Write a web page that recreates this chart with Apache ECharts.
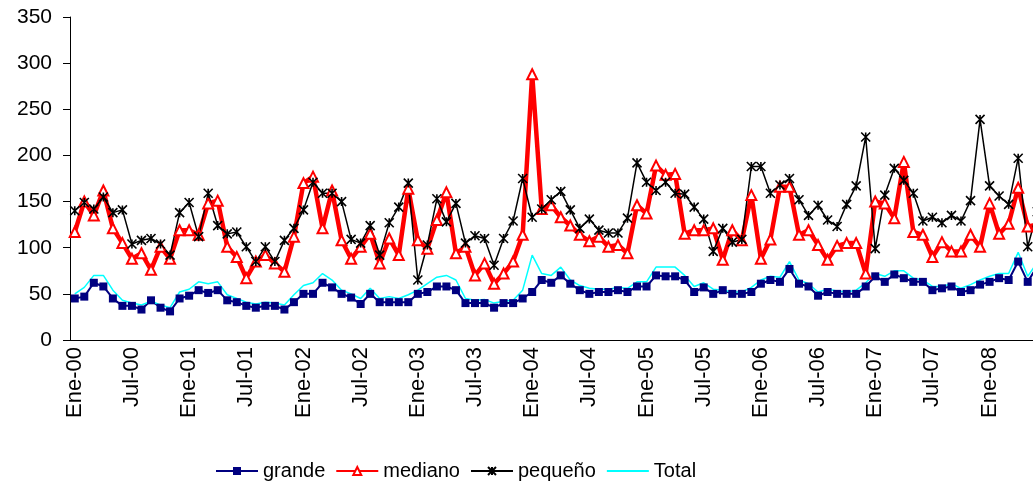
<!DOCTYPE html>
<html>
<head>
<meta charset="utf-8">
<script src="https://cdn.jsdelivr.net/npm/echarts@6/dist/echarts.min.js"></script>
<style>
  html, body { margin: 0; padding: 0; background: #fff; overflow: hidden; }
  /* the source image is cropped on the right, so the chart is a little wider than the window */
  #chart { width: 1042px; height: 491px; }
</style>
</head>
<body>
<div id="chart"></div>
<script>
const months = ['Ene', 'Feb', 'Mar', 'Abr', 'May', 'Jun', 'Jul', 'Ago', 'Sep', 'Oct', 'Nov', 'Dic'];
const years = ['00', '01', '02', '03', '04', '05', '06', '07', '08'];
const pointCount = 102;

const grande = [45, 47, 62, 58, 45, 37, 37, 33, 43, 35,
  31, 45, 48, 54, 51, 54, 43, 41, 37, 35,
  37, 37, 33, 41, 50, 50, 62, 57, 50, 46,
  39, 50, 41, 41, 41, 41, 50, 52, 58, 58,
  54, 40, 40, 40, 35, 40, 40, 45, 52, 65,
  62, 70, 61, 54, 50, 52, 52, 54, 52, 58,
  58, 70, 69, 69, 65, 52, 57, 50, 54, 50,
  50, 52, 61, 65, 63, 77, 61, 58, 48, 52,
  50, 50, 50, 58, 69, 63, 71, 67, 63, 63,
  54, 56, 58, 52, 54, 60, 63, 67, 65, 85,
  63, 80];

const mediano = [117, 150, 135, 162, 121, 105, 88, 94, 76, 101,
  88, 119, 119, 114, 148, 151, 101, 90, 67, 85,
  92, 83, 74, 112, 170, 177, 121, 162, 108, 88,
  101, 115, 83, 110, 92, 164, 108, 99, 130, 160,
  94, 101, 70, 83, 61, 72, 85, 114, 288, 142,
  146, 133, 124, 114, 107, 112, 101, 103, 94, 146,
  137, 189, 179, 180, 115, 119, 119, 121, 87, 119,
  108, 157, 88, 109, 166, 166, 114, 119, 103, 87,
  102, 105, 105, 72, 150, 148, 132, 193, 117, 114,
  90, 106, 96, 96, 114, 101, 148, 115, 126, 165,
  123, 125];

const pequeno = [140, 149, 142, 155, 138, 141, 104, 108, 110, 104,
  92, 138, 149, 112, 159, 124, 115, 117, 101, 85,
  101, 85, 108, 121, 141, 171, 159, 159, 150, 109,
  105, 124, 92, 127, 144, 170, 65, 103, 153, 128,
  148, 105, 113, 110, 81, 110, 129, 175, 133, 142,
  152, 161, 141, 121, 131, 119, 116, 116, 132, 192,
  171, 162, 171, 159, 158, 144, 131, 96, 121, 106,
  109, 188, 188, 159, 168, 175, 152, 135, 146, 130,
  123, 147, 167, 220, 99, 157, 186, 173, 159, 129,
  133, 127, 135, 129, 151, 239, 167, 156, 147, 197,
  101, 139];

const total = [50, 57, 70, 70, 54, 43, 40, 38, 42, 38,
  35, 52, 55, 63, 61, 63, 49, 45, 41, 39,
  41, 40, 38, 49, 59, 62, 72, 65, 54, 50,
  45, 56, 45, 47, 45, 49, 54, 61, 68, 70,
  65, 45, 43, 44, 40, 42, 43, 54, 92, 72,
  70, 79, 65, 59, 56, 55, 55, 57, 56, 63,
  63, 79, 79, 79, 70, 58, 62, 55, 54, 52,
  52, 57, 65, 69, 68, 85, 65, 61, 52, 55,
  53, 52, 54, 62, 72, 69, 75, 75, 67, 65,
  58, 58, 61, 56, 60, 65, 69, 72, 72, 95,
  69, 84];

const categories = [];
for (const y of years) {
  for (const m of months) {
    if (categories.length < pointCount) categories.push(m + '-' + y);
  }
}

const font = 'Liberation Sans, Arial, sans-serif';
const starPath = 'path://M5,0L5,10M0,0L10,10M0,10L10,0';

const chart = echarts.init(document.getElementById('chart'));
chart.setOption({
  animation: false,
  textStyle: { fontFamily: font, color: '#000' },
  grid: { left: 70, right: 0, top: 17, bottom: 151 },
  legend: {
    left: 210,
    top: 456,
    itemWidth: 42,
    itemHeight: 10,
    itemGap: 10,
    textStyle: { fontSize: 20, color: '#000', fontFamily: font },
    data: ['grande', 'mediano', 'pequeño', { name: 'Total', itemStyle: { opacity: 0 } }]
  },
  xAxis: {
    type: 'category',
    data: categories,
    boundaryGap: true,
    axisLine: { lineStyle: { color: '#000', width: 1 } },
    axisTick: { interval: 5, length: 5, lineStyle: { color: '#000' } },
    axisLabel: {
      interval: 5,
      rotate: 90,
      margin: 7,
      fontSize: 22,
      color: '#000',
      fontFamily: font
    },
    splitLine: { show: false }
  },
  yAxis: {
    type: 'value',
    min: 0,
    max: 350,
    interval: 50,
    axisLine: { show: true, lineStyle: { color: '#000', width: 1 } },
    axisTick: { show: true, length: 7, lineStyle: { color: '#000' } },
    axisLabel: { margin: 18, fontSize: 21, color: '#000', fontFamily: font },
    splitLine: { show: false }
  },
  series: [
    {
      name: 'grande',
      type: 'line',
      data: grande,
      showAllSymbol: true,
      symbol: 'rect',
      symbolSize: 8,
      color: '#000080',
      lineStyle: { width: 2, color: '#000080' },
      itemStyle: { color: '#000080' }
    },
    {
      name: 'mediano',
      type: 'line',
      data: mediano,
      showAllSymbol: true,
      symbol: 'emptyTriangle',
      symbolSize: 10,
      color: '#ff0000',
      lineStyle: { width: 4.5, color: '#ff0000' },
      itemStyle: { color: '#ff0000', borderColor: '#ff0000', borderWidth: 2.5 }
    },
    {
      name: 'pequeño',
      type: 'line',
      data: pequeno,
      showAllSymbol: true,
      symbol: starPath,
      symbolSize: 9,
      color: '#000',
      lineStyle: { width: 1.5, color: '#000' },
      itemStyle: { color: 'transparent', borderColor: '#000', borderWidth: 1.6 }
    },
    {
      name: 'Total',
      type: 'line',
      data: total,
      showSymbol: false,
      color: '#00ffff',
      lineStyle: { width: 1.5, color: '#00ffff' }
    }
  ]
});
</script>
</body>
</html>
